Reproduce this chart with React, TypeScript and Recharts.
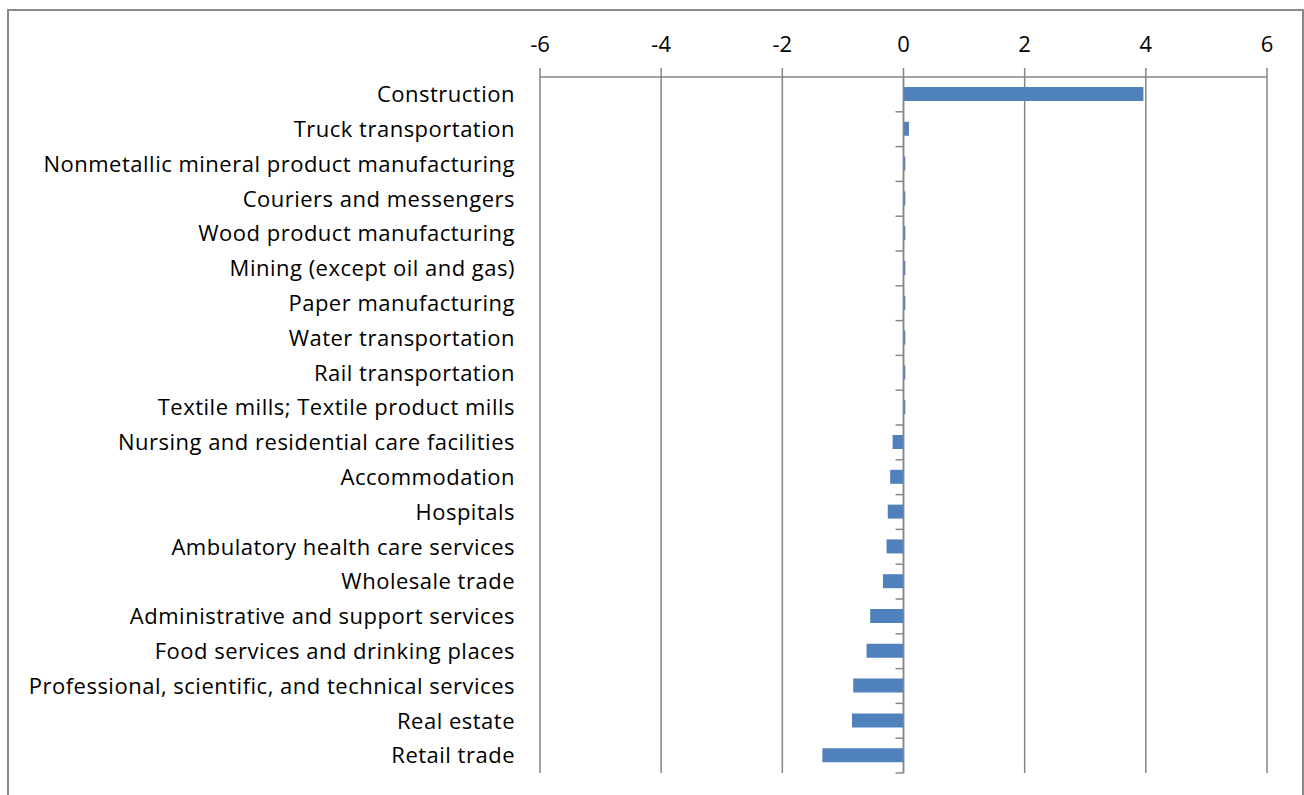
import React from 'react';
import { BarChart, Bar, XAxis, YAxis, CartesianGrid, ReferenceLine } from 'recharts';

const categories = [
  'Construction',
  'Truck transportation',
  'Nonmetallic mineral product manufacturing',
  'Couriers and messengers',
  'Wood product manufacturing',
  'Mining (except oil and gas)',
  'Paper manufacturing',
  'Water transportation',
  'Rail transportation',
  'Textile mills; Textile product mills',
  'Nursing and residential care facilities',
  'Accommodation',
  'Hospitals',
  'Ambulatory health care services',
  'Wholesale trade',
  'Administrative and support services',
  'Food services and drinking places',
  'Professional, scientific, and technical services',
  'Real estate',
  'Retail trade',
];

const values = [
  3.96, 0.09, 0.03, 0.03, 0.03, 0.03, 0.03, 0.03, 0.03, 0.03,
  -0.18, -0.22, -0.26, -0.28, -0.34, -0.55, -0.61, -0.83, -0.85, -1.34,
];

const xTicks = [-6, -4, -2, 0, 2, 4, 6];

const data = categories.map((name, i) => ({ name, value: values[i] }));

const FONT = '"Open Sans", sans-serif';
const GRID = '#868686';

// zero line with tick marks between categories, the way Excel draws the category axis
const ZeroAxis = (props: any) => {
  const { x1, y1, y2 } = props;
  const top = Math.min(y1, y2);
  const bottom = Math.max(y1, y2);
  const step = (bottom - top) / categories.length;
  const marks = [];
  for (let i = 1; i <= categories.length; i++) {
    const y = top + step * i;
    marks.push(<line key={i} x1={x1 - 8} x2={x1} y1={y} y2={y} stroke={GRID} strokeWidth={1.5} />);
  }
  return (
    <g>
      <line x1={x1} x2={x1} y1={top} y2={bottom} stroke={GRID} strokeWidth={1.5} />
      {marks}
    </g>
  );
};

export default function App() {
  return (
    <div
      style={{
        position: 'absolute',
        left: 7,
        top: 9,
        width: 1293,
        height: 800,
        border: '2px solid #8a8a8a',
        borderBottom: 'none',
        background: '#fff',
      }}
    >
      <BarChart
        width={1290}
        height={780}
        data={data}
        layout="vertical"
        margin={{ top: 26, right: 32, bottom: 18, left: 0 }}
        barSize={14}
      >
        <CartesianGrid horizontal={false} stroke={GRID} strokeWidth={1.5} />
        <XAxis
          type="number"
          orientation="top"
          domain={[-6, 6]}
          ticks={xTicks}
          interval={0}
          height={40}
          axisLine={{ stroke: GRID, strokeWidth: 1.5 }}
          tickLine={{ stroke: GRID, strokeWidth: 1.5 }}
          tickSize={9}
          tickMargin={16}
          tick={{ fill: '#000', fontSize: 22, fontFamily: FONT }}
        />
        <YAxis
          type="category"
          dataKey="name"
          width={531}
          interval={0}
          axisLine={false}
          tickLine={false}
          tickSize={0}
          tickMargin={25}
          tick={{ fill: '#000', fontSize: 22, fontFamily: FONT, letterSpacing: 0.5 }}
        />
        <ReferenceLine x={0} shape={ZeroAxis} />
        <Bar dataKey="value" fill="#4f81bd" isAnimationActive={false} />
      </BarChart>
    </div>
  );
}
